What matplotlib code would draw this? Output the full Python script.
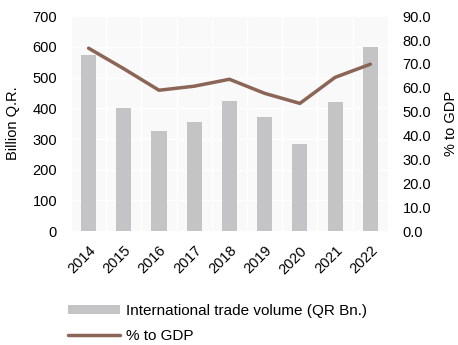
import numpy as np
import matplotlib.pyplot as plt

plt.rcParams['font.family'] = ['Liberation Sans', 'DejaVu Sans']

years = ['2014', '2015', '2016', '2017', '2018', '2019', '2020', '2021', '2022']
trade_volume = [573, 400, 326, 355, 423, 372, 283, 420, 599]
pct_gdp = [76.6, 68.0, 59.0, 60.7, 63.6, 57.7, 53.5, 64.4, 69.9]

bar_color = '#C4C4C6'
line_color = '#8B6556'

fig = plt.figure(figsize=(4.58, 3.45), dpi=100)
ax = fig.add_axes([0.155, 0.33, 0.692, 0.623])
x = np.arange(len(years))

ax.set_facecolor('#F9F9F9')
bars = ax.bar(x, trade_volume, width=0.43, color=bar_color, zorder=3,
              label='International trade volume (QR Bn.)')
ax.set_ylim(0, 700)
ax.set_yticks(range(0, 701, 100))
ax.set_xlim(-0.5, len(years) - 0.5)
ax.set_xticks(x)
ax.set_xticklabels(years, rotation=45, ha='right', rotation_mode='anchor')
ax.set_ylabel('Billion Q.R.', fontsize=10.5)
ax.yaxis.set_label_coords(-0.161, 0.5)

# grille blanche discrete
ax.set_xticks(np.arange(-0.5, len(years), 1), minor=True)
ax.grid(True, axis='y', color='white', linewidth=1, zorder=0)
ax.grid(True, axis='x', which='minor', color='white', linewidth=1, zorder=0)
ax.tick_params(axis='x', which='minor', length=0)
ax.tick_params(axis='x', length=0, labelsize=10.5, pad=9)
ax.tick_params(axis='y', length=0, labelsize=10.5, pad=10)
for s in ax.spines.values():
    s.set_visible(False)

ax2 = ax.twinx()
line, = ax2.plot(x, pct_gdp, color=line_color, linewidth=2.5, zorder=4,
                 solid_capstyle='round', label='% to GDP')
ax2.set_ylim(0, 90)
ax2.set_yticks(np.arange(0, 91, 10))
ax2.set_yticklabels([f'{v:.1f}' for v in np.arange(0, 91, 10)])
ax2.set_ylabel('% to GDP', fontsize=10.5)
ax2.yaxis.set_label_coords(1.177, 0.5)
ax2.tick_params(length=0, labelsize=10.5, pad=10.5)
for s in ax2.spines.values():
    s.set_visible(False)

fig.legend([bars, line], ['International trade volume (QR Bn.)', '% to GDP'],
           loc='upper left', bbox_to_anchor=(0.135, 0.136), frameon=False,
           fontsize=11, handlelength=3.4, handleheight=0.55, labelspacing=0.7,
           handletextpad=0.4, borderaxespad=0)

fig.savefig('out.png', dpi=100)
